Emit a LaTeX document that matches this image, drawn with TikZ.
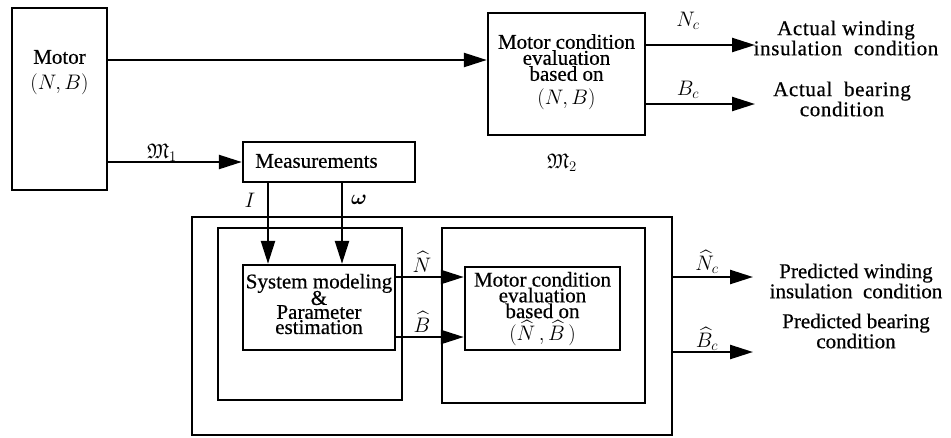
\RequirePackage{fix-cm}
\documentclass[tikz,border=0pt]{standalone}
\usepackage{amsmath,amssymb}
\usepackage{fontspec}
\setmainfont{Liberation Serif}[UprightFeatures={FakeBold=0.5}]
\usetikzlibrary{arrows.meta}
\begin{document}
\begin{tikzpicture}[x=1pt,y=-1pt,
  blk/.style={draw,line width=2.4pt,inner sep=0pt},
  arr/.style={line width=2.4pt,-{Triangle[length=23pt,width=14pt]}},
  txt/.style={font=\fontsize{21}{16}\selectfont,align=center,inner sep=0pt},
  wtxt/.style={font=\fontsize{21}{18.5}\selectfont\addfontfeature{LetterSpace=3},align=center,inner sep=0pt},
  lbl/.style={font=\fontsize{21}{16}\selectfont,inner sep=0pt}]
\useasboundingbox (0,0) rectangle (951,437);
% boxes
\node[blk,minimum width=95pt,minimum height=182pt] (motor) at (59.5,99) {};
\node[txt] (motort) at (59.5,57) {Motor};
\node[txt] (motornb) at (59.5,84) {$(N,B)$};
\node[blk,minimum width=157pt,minimum height=122pt] (mce) at (566.5,74) {};
\node[txt,anchor=north] (mcet) at (566.5,34) {Motor condition\\evaluation\\based on\\[8pt]$(N,B)$};
\node[lbl] (m2) at (562,163) {$\mathfrak{M}_2$};
\node[blk,minimum width=172pt,minimum height=40pt] (meas) at (329,162) {};
\node[lbl,anchor=west] (meast) at (255,161) {Measurements};
\node[blk,minimum width=480pt,minimum height=218pt] (outer) at (432,326) {};
\node[blk,minimum width=184pt,minimum height=172pt] (innl) at (310,314) {};
\node[blk,minimum width=203pt,minimum height=175pt] (innr) at (543.5,315.5) {};
\node[blk,minimum width=152pt,minimum height=85pt] (sm) at (319,307.5) {};
\node[txt,font=\fontsize{21}{14}\selectfont] (smt) at (319,304) {System modeling\\[-3pt]\&\\Parameter\\estimation};
\node[blk,minimum width=155pt,minimum height=83pt] (mce2) at (542.5,308.5) {};
\node[txt,font=\fontsize{21}{14.5}\selectfont] (mce2t) at (542.5,309) {Motor condition\\evaluation\\based on\\[1pt]$(\widehat{N}\,,\widehat{B}\,)$};
% right texts
\node[wtxt] (aw) at (846,38) {Actual winding\\insulation\ \ condition};
\node[wtxt] (ab) at (842,99) {Actual\ \ bearing\\condition};
\node[txt,font=\fontsize{21}{18.5}\selectfont] (pw) at (856,281) {Predicted winding\\insulation\ \ condition};
\node[txt,font=\fontsize{21}{18.5}\selectfont] (pb) at (856,331) {Predicted bearing\\condition};
% connectors
\coordinate (ae) at (755,0);
\draw[arr] (motor.east |- 0,60) -- (mce.west |- 0,60);
\draw[arr] (motor.east |- meas.west) -- (meas.west);
\node[lbl] (m1) at (162,153) {$\mathfrak{M}_1$};
\draw[arr] (mce.east |- 0,45) -- (ae |- 0,45);
\node[lbl] (nc) at (688,21) {$N_c$};
\draw[arr] (mce.east |- 0,104) -- (ae |- 0,104);
\node[lbl] (bc) at (688,90) {$B_c$};
\coordinate (ix) at (268,0);
\coordinate (wx) at (342,0);
\draw[arr] (meas.south -| ix) -- (sm.north -| ix);
\draw[arr] (meas.south -| wx) -- (sm.north -| wx);
\node[lbl] (il) at (250,200) {$I$};
\node[lbl] (wl) at (359,200) {$\boldsymbol{\omega}$};
\draw[arr] (sm.east |- 0,277) -- (mce2.west |- 0,277);
\draw[arr] (sm.east |- 0,337) -- (mce2.west |- 0,337);
\node[lbl] (nh) at (422,262) {$\widehat{N}$};
\node[lbl] (bh) at (422,322) {$\widehat{B}$};
\coordinate (ee) at (753,0);
\draw[arr] (outer.east |- 0,277) -- (ee |- 0,277);
\draw[arr] (outer.east |- 0,352) -- (ee |- 0,352);
\node[lbl] (nch) at (707,262) {$\widehat{N}_c$};
\node[lbl] (bch) at (707,339) {$\widehat{B}_c$};
\end{tikzpicture}
\end{document}
